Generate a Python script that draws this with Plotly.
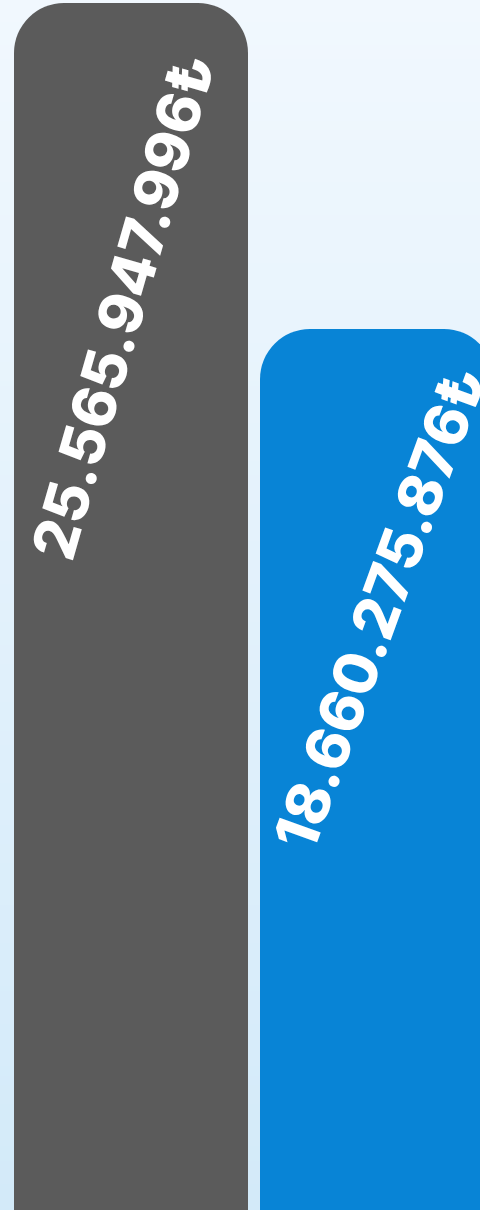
import base64, struct, zlib
import plotly.graph_objects as go

categories = ["Bar A", "Bar B"]
values = [25565947996, 18660275876]
bar_colors = ["#5b5b5b", "#0884d6"]
text_angles = [-74, -70]
text_shift_x = [-8, 2]
text_shift_y = [-40, -25]
currency = "₺"

W, H = 480, 1210


def gradient_png(top, bottom, n=256):
    rows = b""
    for i in range(n):
        t = i / (n - 1)
        c = bytes(int(round(top[k] + (bottom[k] - top[k]) * t)) for k in range(3))
        rows += b"\x00" + c

    def chunk(tag, data):
        return struct.pack(">I", len(data)) + tag + data + struct.pack(">I", zlib.crc32(tag + data) & 0xffffffff)

    png = b"\x89PNG\r\n\x1a\n"
    png += chunk(b"IHDR", struct.pack(">IIBBBBB", 1, n, 8, 2, 0, 0, 0))
    png += chunk(b"IDAT", zlib.compress(rows))
    png += chunk(b"IEND", b"")
    return "data:image/png;base64," + base64.b64encode(png).decode()


def fmt(v):
    return f"{v:,.0f}".replace(",", ".") + currency


bg = gradient_png((241, 248, 254), (211, 234, 249))

fig = go.Figure()
for i in range(len(categories)):
    fig.add_trace(go.Bar(
        x=[i], y=[values[i]],
        width=234 / 246,
        marker=dict(color=bar_colors[i], cornerradius=50, line=dict(width=0)),
        hoverinfo="skip",
        showlegend=False,
    ))
    fig.add_annotation(
        x=i, y=values[i], xref="x", yref="y",
        text=fmt(values[i]), showarrow=False,
        textangle=text_angles[i],
        xanchor="center", yanchor="top",
        xshift=text_shift_x[i], yshift=text_shift_y[i],
        font=dict(family="Inter", size=60, color="white", weight=800),
    )

r0 = -131 / 246
fig.update_layout(
    width=W, height=H,
    margin=dict(l=0, r=0, t=0, b=0),
    paper_bgcolor="rgba(0,0,0,0)",
    plot_bgcolor="rgba(0,0,0,0)",
    barmode="overlay",
    hovermode=False,
    xaxis=dict(visible=False, range=[r0, r0 + W / 246], tickvals=[0, 1], ticktext=categories),
    yaxis=dict(visible=False, range=[0, values[0] * H / 1207]),
    images=[dict(source=bg, xref="paper", yref="paper", x=0, y=1, sizex=1, sizey=1,
                 sizing="stretch", layer="below", xanchor="left", yanchor="top")],
)
fig.write_html(
    "out.html",
    config={"displayModeBar": False, "staticPlot": True},
    post_script="document.body.style.margin='0';document.body.style.overflow='hidden';",
)
